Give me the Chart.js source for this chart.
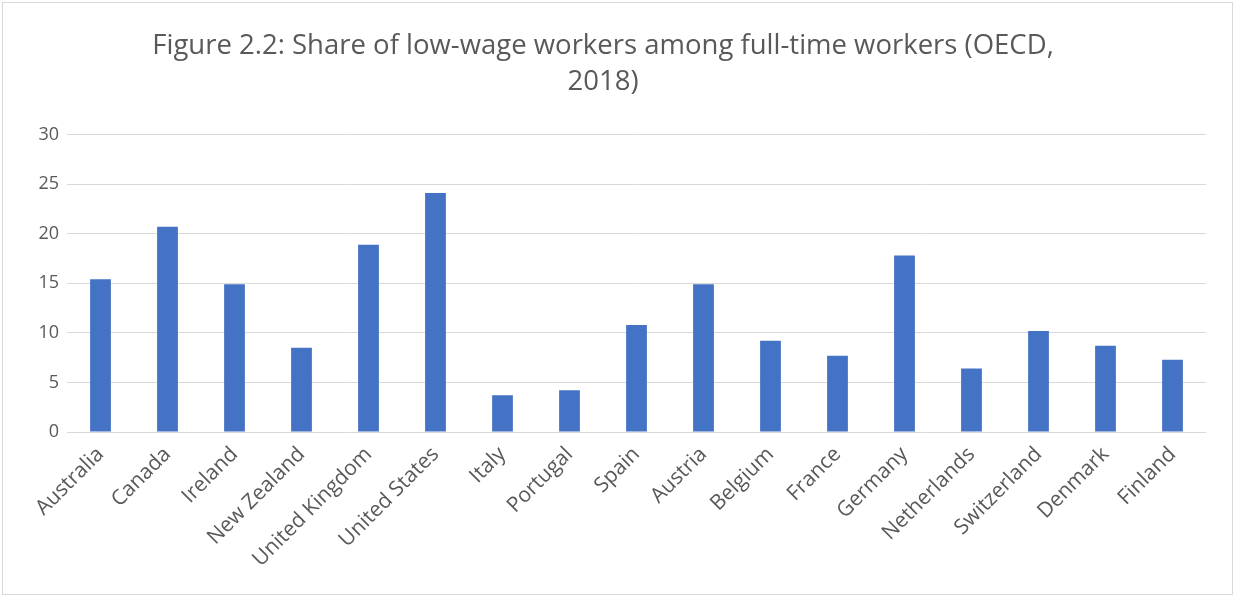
<!DOCTYPE html>
<html>
<head>
<meta charset="utf-8">
<script src="https://cdn.jsdelivr.net/npm/chart.js@4"></script>
<style>
  html, body { margin: 0; padding: 0; background: #fff; }
  #wrap { position: relative; width: 1235px; height: 597px; }
  #frame { position: absolute; left: 2px; top: 2px; width: 1229px; height: 591px;
           border: 1px solid #d9d9d9; pointer-events: none; }
</style>
</head>
<body>
<div id="wrap">
  <canvas id="low_wage_chart" width="1235" height="597"></canvas>
  <div id="frame"></div>
</div>
<script>
// low-wage share by country, OECD 2018
const countries = ['Australia', 'Canada', 'Ireland', 'New Zealand', 'United Kingdom', 'United States',
  'Italy', 'Portugal', 'Spain', 'Austria', 'Belgium', 'France', 'Germany', 'Netherlands',
  'Switzerland', 'Denmark', 'Finland'];
const lowWageShare = [15.4, 20.7, 14.9, 8.5, 18.9, 24.1, 3.7, 4.2, 10.8, 14.9, 9.2, 7.7, 17.8, 6.4, 10.2, 8.7, 7.3];
const yTicks = [0, 5, 10, 15, 20, 25, 30];

const titleLines = ['Figure 2.2: Share of low-wage workers among full-time workers (OECD,', '2018)'];
const textColor = '#595959';
const gridColor = '#d9d9d9';

const ctx = document.getElementById('low_wage_chart').getContext('2d');
new Chart(ctx, {
  type: 'bar',
  data: {
    labels: countries,
    datasets: [{
      label: 'Share of low-wage workers',
      data: lowWageShare,
      backgroundColor: '#4472c4',
      categoryPercentage: 1,
      barPercentage: 0.31
    }]
  },
  options: {
    responsive: false,
    animation: false,
    layout: { padding: { left: 0, right: 29, top: 0, bottom: 0 } },
    plugins: {
      legend: { display: false },
      tooltip: { enabled: false },
      title: {
        display: true,
        text: titleLines,
        color: textColor,
        font: { family: 'Open Sans', size: 27.5, weight: 'normal', lineHeight: 1.32 },
        padding: { top: 28, bottom: 34 }
      }
    },
    scales: {
      x: {
        grid: { display: false },
        border: { display: false },
        ticks: {
          color: textColor,
          font: { family: 'Open Sans', size: 21 },
          autoSkip: false,
          minRotation: 45,
          maxRotation: 45,
          padding: 2
        },
        afterFit: scale => { scale.height = 165; }
      },
      y: {
        min: 0,
        max: 30,
        afterBuildTicks: scale => { scale.ticks = yTicks.map(v => ({ value: v })); },
        grid: { color: gridColor, lineWidth: 1, drawTicks: false },
        border: { display: false },
        ticks: {
          color: textColor,
          font: { family: 'Open Sans', size: 18 },
          padding: 8
        },
        afterFit: scale => { scale.width = 67; }
      }
    }
  }
});
</script>
</body>
</html>
